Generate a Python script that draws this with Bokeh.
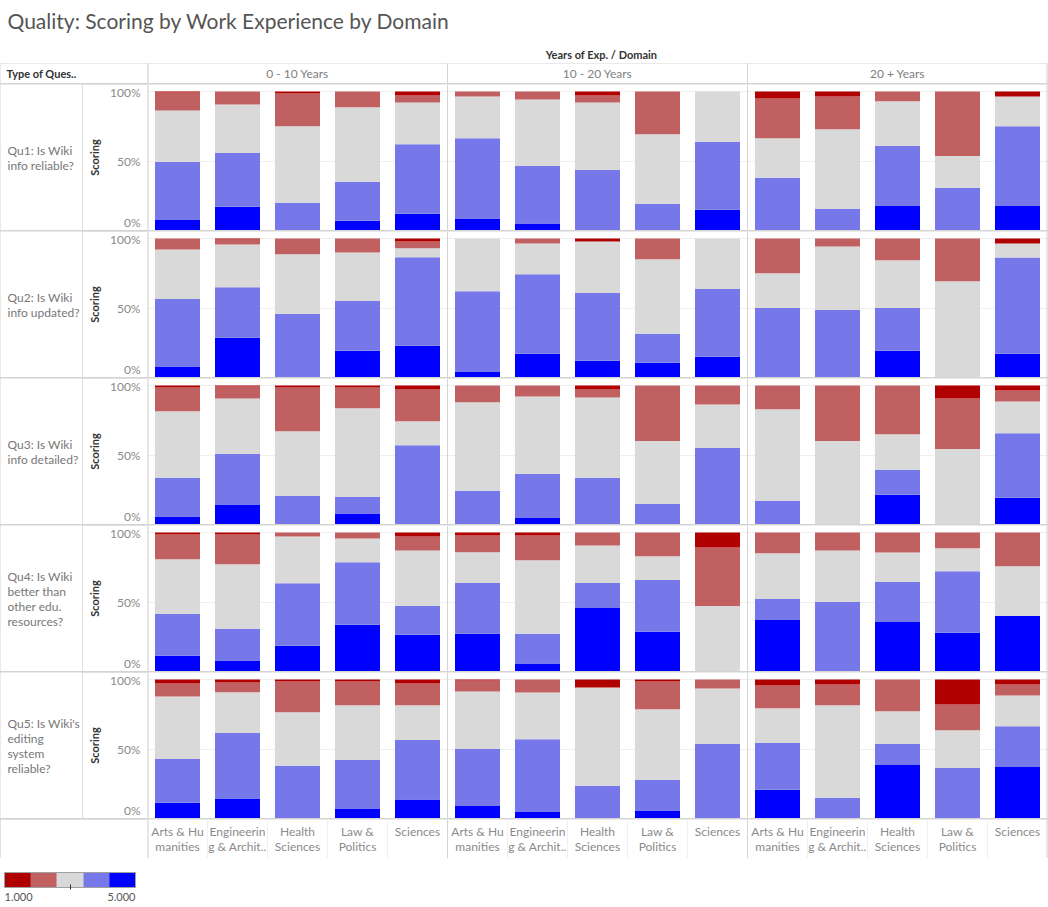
import numpy as np
from bokeh.plotting import figure
from bokeh.layouts import column, row
from bokeh.models import (FactorRange, Range1d, ColumnDataSource, Span, Label,
                          FixedTicker, NumeralTickFormatter, ColorBar, LinearColorMapper)
from bokeh.core.properties import value
from bokeh.embed import file_html
from bokeh.resources import INLINE

# ---------------- data ----------------
title_text = "Quality: Scoring by Work Experience by Domain"
column_header = "Years of Exp. / Domain"
row_header = "Type of Ques.."
experience = ["0 - 10 Years", "10 - 20 Years", "20 + Years"]
domains = ["Arts & Hu\nmanities", "Engineerin\ng & Archit..", "Health\nSciences", "Law &\nPolitics", "Sciences"]
questions = [
    "Qu1: Is Wiki\ninfo reliable?",
    "Qu2: Is Wiki\ninfo updated?",
    "Qu3: Is Wiki\ninfo detailed?",
    "Qu4: Is Wiki\nbetter than\nother edu.\nresources?",
    "Qu5: Is Wiki's\nediting\nsystem\nreliable?",
]
score_levels = ["5", "4", "3", "2", "1"]          # stacked bottom -> top
score_colors = ["#0000ff", "#7678ea", "#d9d9d9", "#c06060", "#b00000"]
legend_low, legend_high = 1, 5
legend_labels = ["1.000", "5.000"]

# percent of answers per bar; each row = one question, 15 bars = 3 experience groups x 5 domains
pct_score5 = [
    [7.9, 17.1, 0, 7.1, 12.1,   8.6, 5.0, 0, 0, 15.0,      0, 0, 17.9, 0, 17.9],
    [7.9, 28.6, 0, 19.3, 22.9,  4.3, 17.1, 12.1, 10.7, 15.0, 0, 0, 19.3, 0, 17.1],
    [5.7, 14.3, 0, 7.9, 0,      0, 5.0, 0, 0, 0,            0, 0, 21.4, 0, 19.3],
    [11.4, 7.9, 18.6, 33.6, 26.4, 27.1, 5.7, 45.7, 28.6, 0, 37.1, 0, 35.7, 27.9, 40.0],
    [11.4, 14.3, 0, 7.1, 13.6,  9.3, 5.0, 0, 5.7, 0,        20.7, 0, 38.6, 0, 37.1],
]
pct_score4 = [
    [41.4, 38.6, 20.0, 27.9, 50.0, 57.9, 41.4, 43.6, 19.3, 48.6, 37.9, 15.7, 42.9, 30.7, 57.1],
    [48.6, 36.4, 45.7, 35.7, 63.6, 57.9, 57.1, 48.6, 20.7, 48.6, 50.0, 48.6, 30.7, 0, 69.3],
    [27.9, 36.4, 20.7, 12.1, 57.1, 24.3, 31.4, 33.6, 15.0, 55.0, 17.1, 0, 17.9, 0, 46.4],
    [30.0, 22.9, 45.0, 45.0, 20.7, 36.4, 21.4, 17.9, 37.1, 0,   15.0, 50.0, 28.6, 44.3, 0],
    [31.4, 47.1, 37.9, 35.0, 42.9, 40.7, 52.1, 23.6, 22.1, 53.6, 33.6, 15.0, 15.0, 36.4, 29.3],
]
pct_score3 = [
    [37.1, 35.0, 55.0, 53.6, 30.0, 30.0, 47.9, 48.6, 50.0, 36.4, 28.6, 57.1, 32.1, 22.9, 21.4],
    [35.7, 30.7, 42.9, 35.0, 6.4,  37.9, 22.1, 37.1, 53.6, 36.4, 25.0, 45.7, 34.3, 69.3, 10.0],
    [47.9, 40.0, 46.4, 63.6, 17.1, 63.6, 55.7, 57.9, 45.0, 31.4, 65.7, 60.0, 25.7, 54.3, 22.9],
    [39.3, 46.4, 33.6, 17.1, 40.0, 22.1, 52.9, 27.1, 17.1, 47.1, 32.9, 37.1, 21.4, 16.4, 35.7],
    [45.0, 29.3, 38.6, 39.3, 25.0, 41.4, 33.6, 70.7, 50.7, 40.0, 25.0, 66.4, 23.6, 27.1, 22.1],
]
pct_score2 = [
    [12.9, 9.3, 23.6, 11.4, 5.0,  3.6, 5.7, 5.0, 30.7, 0,    28.6, 23.6, 7.1, 46.4, 0],
    [7.9, 3.6, 11.4, 10.0, 5.0,   0, 3.6, 0, 15.0, 0,        25.0, 5.7, 15.7, 30.7, 0],
    [17.1, 8.6, 31.4, 15.0, 22.9, 12.1, 7.9, 5.7, 40.0, 13.6, 17.1, 40.0, 35.0, 36.4, 7.9],
    [17.9, 21.4, 2.9, 4.3, 10.0,  12.1, 17.9, 9.3, 17.1, 42.1, 15.0, 12.9, 14.3, 11.4, 24.3],
    [9.3, 7.1, 22.1, 17.1, 15.7,  7.9, 9.3, 0, 20.0, 6.4,    16.4, 15.0, 22.9, 18.6, 7.9],
]
pct_score1 = [
    [0.7, 0, 1.4, 0, 2.9,     0, 0, 2.9, 0, 0,      5.0, 3.6, 0, 0, 3.6],
    [0, 0.7, 0, 0, 2.1,       0, 0, 2.1, 0, 0,      0, 0, 0, 0, 3.6],
    [1.4, 0.7, 1.4, 1.4, 2.9, 0, 0, 2.9, 0, 0,      0, 0, 0, 9.3, 3.6],
    [1.4, 1.4, 0, 0, 2.9,     2.1, 2.1, 0, 0, 10.7, 0, 0, 0, 0, 0],
    [2.9, 2.1, 1.4, 1.4, 2.9, 0.7, 0, 5.7, 1.4, 0,  4.3, 3.6, 0, 17.9, 3.6],
]
score_tables = [pct_score5, pct_score4, pct_score3, pct_score2, pct_score1]

# ---------------- style ----------------
FONT = "Lato"
W = 1048
LABEL_W = 82           # row-label cell
AXIS_BORDER = 65       # y-axis area left of the bars
FRAME_L = LABEL_W + AXIS_BORDER
FRAME_R = 1
ROW_H = 146
LINE = "#d4d4d4"
FAINT = "#efefef"
TXT_GRAY = "#808080"

factors = [(e, d) for e in experience for d in domains]
x_range = FactorRange(*factors, factor_padding=0, group_padding=0, range_padding=0)
n_bars = len(factors)
group_edges = list(range(0, n_bars + 1, len(domains)))
Y_TOP = 1 + 7 / 139     # small headroom above 100%
ZERO_LABEL_AT = 8 / 139  # tableau draws the 0% label just inside the pane


def base_fig(**kw):
    opts = dict(output_backend="svg", toolbar_location=None, outline_line_color=None,
                min_border_left=0, min_border_right=0, min_border_top=0, min_border_bottom=0,
                background_fill_color="white", border_fill_color="white")
    opts.update(kw)
    f = figure(**opts)
    f.grid.visible = False
    return f


def add_group_lines(f, edges, faint_edges=()):
    for loc in faint_edges:
        f.add_layout(Span(location=loc, dimension="height", line_color=FAINT, line_width=1))
    for loc in edges:
        w = 2 if loc in (edges[0], edges[-1]) else 1
        f.add_layout(Span(location=loc, dimension="height", line_color=LINE, line_width=w))


# ---------------- title block ----------------
title_fig = base_fig(width=W, height=63, x_range=Range1d(0, 1), y_range=Range1d(0, 1),
                     x_axis_location=None, y_axis_location=None)
title_fig.add_layout(Label(x=3, y=43, x_units="screen", y_units="screen", text=title_text,
                           text_font=FONT, text_font_size="21px", text_color="#555555",
                           text_baseline="middle", text_align="left"))
title_fig.add_layout(Label(x=597, y=9, x_units="screen", y_units="screen", text=column_header,
                           text_font=FONT, text_font_size="11px", text_font_style="bold",
                           text_color="#333333", text_baseline="middle", text_align="center"))

# ---------------- header row ----------------
hdr_left = base_fig(width=FRAME_L, height=20, x_range=Range1d(0, 1), y_range=Range1d(0, 1),
                    x_axis_location=None, y_axis_location=None)
hdr_left.add_layout(Label(x=6, y=10, x_units="screen", y_units="screen", text=row_header,
                          text_font=FONT, text_font_size="11px", text_font_style="bold",
                          text_color="#333333", text_baseline="middle", text_align="left"))
hdr = base_fig(width=W - FRAME_L, height=20, x_range=FactorRange(*experience, range_padding=0),
               y_range=Range1d(0, 1), x_axis_location=None, y_axis_location=None,
               min_border_right=FRAME_R)
hdr.text(x=experience, y=[0.5] * len(experience), text=experience, text_align="center",
         text_baseline="middle", text_font=value(FONT), text_font_size="12px", text_color=TXT_GRAY)
add_group_lines(hdr, list(range(len(experience) + 1)))
header_row = row(hdr_left, hdr, spacing=0)

# ---------------- question rows ----------------
rows = []
for i, q in enumerate(questions):
    vals = [np.array(tbl[i], dtype=float) for tbl in score_tables]
    total = np.sum(vals, axis=0)
    data = {"x": factors}
    for lvl, v in zip(score_levels, vals):
        data[lvl] = v / total
    src = ColumnDataSource(data)

    lab = base_fig(width=LABEL_W, height=ROW_H, x_range=Range1d(0, 1), y_range=Range1d(0, 1),
                   x_axis_location=None, y_axis_location=None)
    lab.add_layout(Label(x=7, y=ROW_H / 2, x_units="screen", y_units="screen", text=q,
                         text_font=FONT, text_font_size="12px", text_color="#777777",
                         text_baseline="middle", text_align="left", text_line_height=1.0))

    p = base_fig(width=W - LABEL_W, height=ROW_H, x_range=x_range, y_range=Range1d(0, Y_TOP),
                 x_axis_location=None, min_border_left=AXIS_BORDER, min_border_right=FRAME_R)
    p.vbar_stack(score_levels, x="x", width=0.75, fill_color=score_colors, line_color=None, source=src)

    ya = p.yaxis[0]
    ya.ticker = FixedTicker(ticks=[ZERO_LABEL_AT, 0.5, 1.0])
    ya.formatter = NumeralTickFormatter(format="0%")
    ya.major_label_overrides = {ZERO_LABEL_AT: "0%"}
    ya.axis_line_color = None
    ya.major_tick_line_color = None
    ya.minor_tick_line_color = None
    ya.major_tick_out = 0
    ya.major_tick_in = 0
    ya.minor_tick_out = 0
    ya.major_label_text_font = FONT
    ya.major_label_text_font_size = "12px"
    ya.major_label_text_color = "#8a8a8a"
    ya.major_label_standoff = 7
    ya.axis_label = "Scoring"
    ya.axis_label_text_font = FONT
    ya.axis_label_text_font_size = "11px"
    ya.axis_label_text_font_style = "bold"
    ya.axis_label_text_color = "#333333"
    ya.axis_label_standoff = 6
    p.ygrid.visible = True
    p.ygrid.ticker = FixedTicker(ticks=[0.5, 1.0])
    p.ygrid.grid_line_color = FAINT

    add_group_lines(p, group_edges)
    rows.append(row(lab, p, spacing=0))

# ---------------- domain labels row ----------------
ax_fig = base_fig(width=W, height=39, x_range=x_range, y_range=Range1d(0, 1),
                  x_axis_location=None, y_axis_location=None,
                  min_border_left=FRAME_L, min_border_right=FRAME_R)
ax_fig.text(x=factors, y=[1] * n_bars, text=[d for _, d in factors], text_align="center",
            text_baseline="top", y_offset=4, text_font=value(FONT), text_font_size="12px",
            text_color="#8a8a8a", text_line_height=1.05)
add_group_lines(ax_fig, group_edges,
                faint_edges=[k for k in range(1, n_bars) if k not in group_edges])

grid_block = column(header_row, *rows, ax_fig, spacing=1,
                    styles={"background-color": LINE})

# ---------------- legend ----------------
legend = base_fig(width=W, height=49, x_range=Range1d(0, 1), y_range=Range1d(0, 1),
                  x_axis_location=None, y_axis_location=None, min_border_left=4, min_border_top=14)
mapper = LinearColorMapper(palette=score_colors[::-1], low=legend_low, high=legend_high)
cb = ColorBar(color_mapper=mapper, orientation="horizontal", location="top_left", width=131, height=15,
              margin=0, padding=0, ticker=FixedTicker(ticks=[(legend_low + legend_high) / 2]),
              major_label_text_color=None, major_tick_in=3, major_tick_out=2,
              major_tick_line_color="#333333", bar_line_color="#a0a0a0",
              border_line_color=None, background_fill_color=None)
legend.add_layout(cb, "center")
legend.add_layout(Label(x=0, y=11, x_units="screen", y_units="screen", text=legend_labels[0],
                        text_font=FONT, text_font_size="11px", text_color="#555555",
                        text_baseline="middle", text_align="left"))
legend.add_layout(Label(x=131, y=11, x_units="screen", y_units="screen", text=legend_labels[1],
                        text_font=FONT, text_font_size="11px", text_color="#555555",
                        text_baseline="middle", text_align="right"))

layout = column(title_fig, grid_block, legend, spacing=0)
open("out.html", "w").write(file_html(layout, INLINE))
